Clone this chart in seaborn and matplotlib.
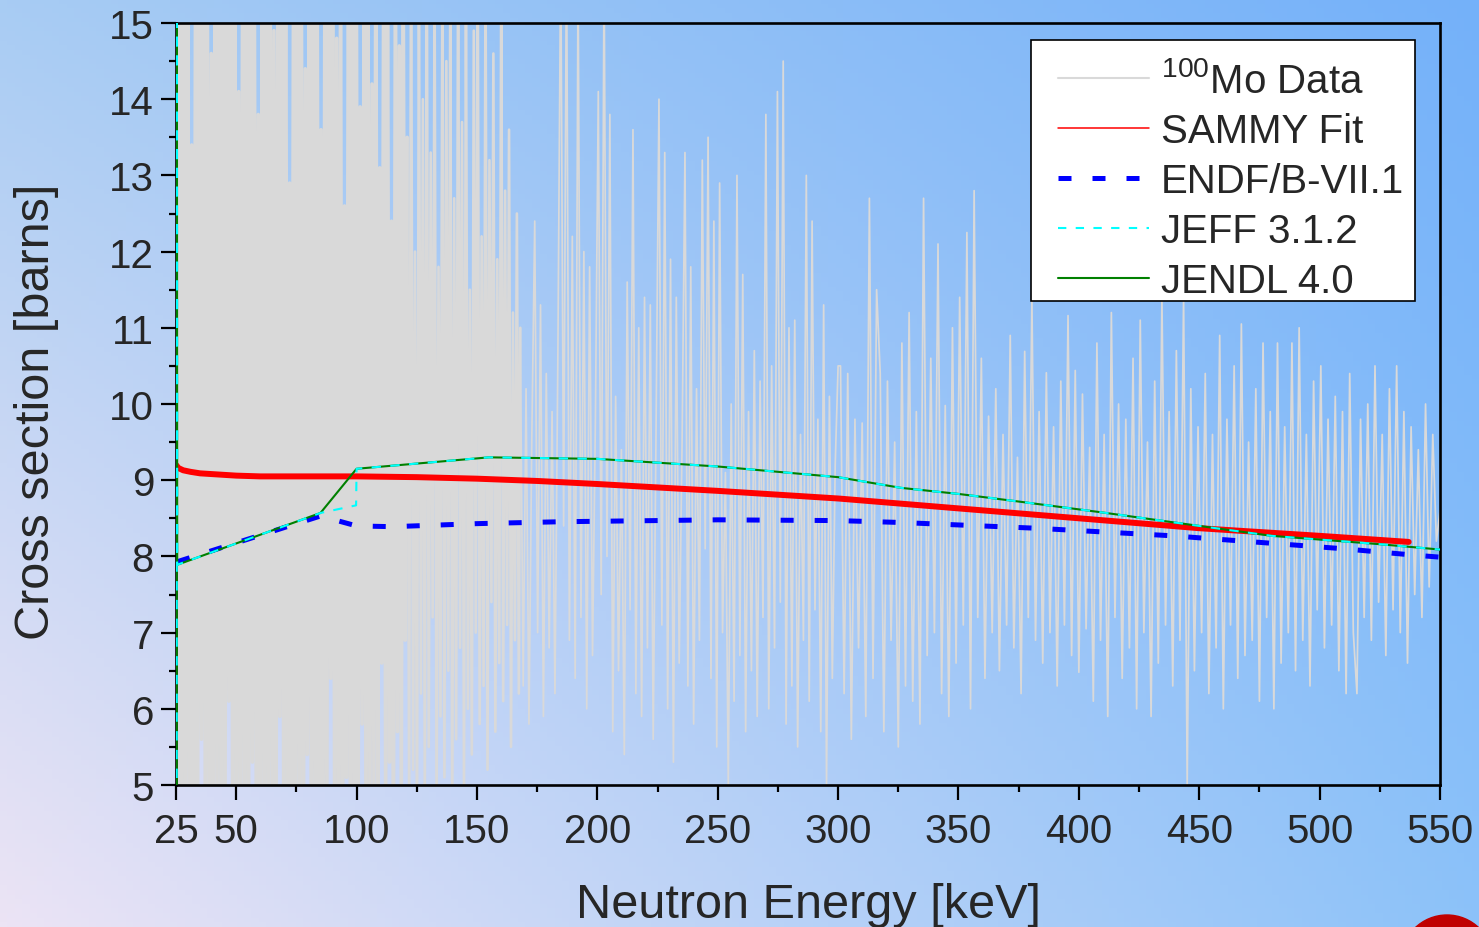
import numpy as np
import pandas as pd
import seaborn as sns
import matplotlib
matplotlib.use("Agg")
import matplotlib.pyplot as plt
from matplotlib.lines import Line2D
from matplotlib.patches import Ellipse, Rectangle

# ---------------- data ----------------
# 100Mo measured data, dense part 25-167 keV (alternating extrema)
data_y_a = [
    16.5, 3.0, 17.0, 4.2, 15.6, 3.5, 16.2, 4.6, 13.4, 3.2, 16.8, 4.0, 15.9, 5.6, 16.4, 3.8,
    16.0, 4.4, 14.6, 3.3, 16.6, 4.9, 15.5, 3.6, 17.2, 4.1, 16.1, 6.1, 15.8, 3.4, 16.9, 4.5,
    14.1, 3.9, 16.3, 4.7, 15.7, 3.1, 16.7, 5.3, 16.0, 4.0, 13.8, 3.7, 16.5, 4.3, 15.9, 3.5,
    17.1, 4.8, 14.9, 3.2, 16.2, 5.9, 15.6, 4.1, 16.8, 3.6, 12.9, 4.4, 16.4, 3.9, 15.7, 4.6,
    16.1, 3.3, 14.4, 5.4, 16.6, 4.2, 15.8, 3.8, 16.9, 4.9, 13.6, 3.4, 16.3, 4.5, 15.5, 6.4,
    16.7, 3.7, 14.8, 4.3, 16.0, 3.5, 12.6, 5.1, 16.5, 4.0, 15.9, 3.6, 17.0, 4.7, 13.9, 5.8,
    16.2, 3.9, 15.6, 4.4, 14.2, 5.0, 16.8, 4.2, 13.1, 6.6, 16.1, 4.6, 15.7, 5.3, 12.4, 4.1,
    16.4, 5.7, 14.7, 4.5, 15.9, 6.9, 13.5, 4.8, 16.6, 5.2, 12.0, 4.3, 15.8, 6.2, 14.0, 4.9,
    16.3, 5.5, 13.3, 7.2, 15.6, 4.7, 11.8, 5.9, 16.0, 5.1, 14.5, 6.5, 15.5, 4.6, 12.7, 5.6,
    16.2, 6.8, 13.7, 5.0, 15.7, 6.0, 11.5, 5.4, 14.9, 7.0, 16.1, 5.8, 12.2, 6.3, 15.9, 5.2,
    13.2, 7.4, 14.6, 5.7, 11.9, 6.6, 15.6, 6.1, 12.8, 7.1, 13.6, 5.5, 11.2, 6.9, 12.5, 6.2,
]
# 100Mo measured data, 168-300 keV
data_y_b = [
    11.0, 6.3, 10.2, 5.8, 9.6, 12.4, 7.0, 11.3, 5.9, 10.4,
    6.8, 9.9, 6.2, 10.6, 16.0, 8.4, 16.2, 6.9, 12.2, 6.4,
    15.8, 7.2, 12.0, 6.0, 11.8, 6.7, 9.8, 14.1, 7.5, 15.8,
    8.0, 13.8, 5.7, 10.1, 6.5, 9.4, 5.4, 11.6, 7.3, 13.6,
    6.2, 11.0, 5.9, 11.4, 6.8, 11.3, 5.6, 9.7, 14.0, 7.1,
    13.3, 6.0, 11.9, 5.3, 11.4, 6.6, 9.5, 13.3, 6.3, 11.8,
    5.8, 10.2, 6.9, 13.2, 8.1, 13.5, 6.4, 12.4, 5.5, 12.9,
    7.0, 9.1, 5.0, 10.0, 6.1, 13.0, 6.7, 11.7, 5.7, 9.9,
    6.5, 10.7, 5.9, 10.3, 7.2, 13.8, 6.0, 10.5, 6.8, 14.1,
    7.4, 14.5, 5.8, 11.0, 6.3, 11.1, 5.5, 9.6, 6.9, 13.0,
    6.1, 12.4, 7.3, 9.8, 5.7, 11.3, 5.0, 10.1, 6.4, 9.2,
    10.5,
]
# 100Mo measured data, 301-550 keV
data_y_c = [
    10.5, 6.2, 10.4, 5.6, 9.8, 6.8, 9.75, 5.9, 12.7, 6.4, 11.5, 10.4, 5.7, 10.3, 6.9, 9.5, 5.5, 10.8, 6.3, 11.2,
    6.1, 9.9, 5.8, 12.7, 6.7, 10.6, 7.0, 12.1, 6.2, 9.98, 5.9, 11.0, 6.6, 11.4, 7.1, 12.25, 6.0, 12.8, 7.2, 10.6,
    6.4, 9.84, 7.0, 10.2, 6.5, 9.6, 7.1, 10.9, 6.8, 9.3, 6.2, 10.69, 7.2, 11.38, 6.9, 9.9, 6.6, 10.41, 7.0, 9.7,
    6.3, 10.3, 7.1, 11.16, 6.7, 10.44, 6.48, 10.13, 7.05, 9.43, 6.1, 10.8, 6.9, 9.6, 5.9, 11.2, 7.2, 10.0, 6.4, 9.8,
    6.8, 10.6, 6.0, 11.1, 7.0, 9.5, 5.9, 10.3, 6.6, 11.4, 7.1, 9.9, 6.3, 10.7, 6.9, 11.4, 5.0, 10.2, 6.5, 9.7,
    7.0, 10.4, 6.2, 9.6, 6.8, 10.9, 6.0, 9.8, 7.1, 10.5, 6.4, 11.05, 6.7, 9.5, 6.9, 10.2, 6.1, 10.8, 7.2, 9.9,
    6.0, 10.8, 6.6, 9.7, 7.0, 10.8, 6.5, 11.0, 6.9, 9.6, 6.3, 10.3, 7.3, 10.5, 6.8, 9.8, 7.1, 10.1, 6.5, 9.9,
    6.2, 10.4, 7.0, 6.2, 9.8, 7.2, 10.0, 6.9, 10.5, 7.4, 9.6, 6.7, 10.2, 7.3, 10.5, 7.0, 9.9, 6.6, 9.7, 7.5,
    9.4, 7.2, 10.0, 7.6, 9.6, 8.2, 8.6,
]
data_range_a = (25.0, 167.4)
data_range_b = (168.0, 300.0)
data_range_c = (301.0, 550.0)

# SAMMY fit
sammy_e = [25, 26, 28, 31, 35, 40, 50, 60, 80, 100, 125, 150, 175, 200, 250, 300, 350, 400, 450, 500, 537]
sammy_y = [9.20, 9.16, 9.13, 9.11, 9.09, 9.08, 9.06, 9.05, 9.05, 9.05, 9.04, 9.02, 8.99, 8.95,
           8.86, 8.76, 8.63, 8.50, 8.37, 8.27, 8.19]

# ENDF/B-VII.1
endf_e = [25.5, 85, 100, 115, 150, 185, 250, 300, 326, 382, 439, 481, 510, 538, 550]
endf_y = [7.93, 8.53, 8.40, 8.39, 8.43, 8.455, 8.48, 8.47, 8.445, 8.37, 8.27, 8.17, 8.10, 8.02, 7.99]

# JEFF 3.1.2
jeff_e = [25.3, 25.35, 25.5, 85, 99.8, 100, 155, 200, 250, 300, 326, 350, 375, 409, 450, 480, 525, 550]
jeff_y = [3.0, 16.5, 7.89, 8.57, 8.67, 9.15, 9.30, 9.28, 9.18, 9.04, 8.90, 8.82, 8.72, 8.58, 8.40, 8.27, 8.16, 8.09]

# JENDL 4.0
jendl_e = [25.3, 25.35, 25.5, 85, 100, 155, 200, 250, 300, 326, 350, 375, 409, 450, 480, 525, 550]
jendl_y = [3.0, 16.5, 7.89, 8.57, 9.15, 9.30, 9.28, 9.18, 9.04, 8.90, 8.82, 8.72, 8.58, 8.40, 8.27, 8.16, 8.09]

legend_labels = [r"$\mathregular{^{100}}$Mo Data", "SAMMY Fit", "ENDF/B-VII.1", "JEFF 3.1.2", "JENDL 4.0"]
x_major = [25, 50, 100, 150, 200, 250, 300, 350, 400, 450, 500, 550]
x_minor = [75, 125, 175, 225, 275, 325, 375, 425, 475, 525]

# ---------------- style ----------------
sns.set_style("ticks")
plt.rcParams["font.family"] = ["Liberation Sans", "DejaVu Sans"]
plt.rcParams["mathtext.fontset"] = "custom"
plt.rcParams["mathtext.rm"] = "Liberation Sans"
plt.rcParams["mathtext.it"] = "Liberation Sans:italic"
plt.rcParams["mathtext.bf"] = "Liberation Sans:bold"

W, H = 1479, 928
fig = plt.figure(figsize=(W / 100, H / 100), dpi=100)

# gradient background
bg = fig.add_axes([0, 0, 1, 1], zorder=0)
tl = np.array([168, 204, 243]) / 255
tr = np.array([116, 177, 250]) / 255
bl = np.array([236, 228, 245]) / 255
br = np.array([140, 194, 249]) / 255
u = np.linspace(0, 1, 200)[None, :, None]
v = np.linspace(0, 1, 200)[:, None, None]
img = (1 - v) * ((1 - u) * tl + u * tr) + v * ((1 - u) * bl + u * br)
bg.imshow(img, aspect="auto", extent=(0, 1, 0, 1), origin="upper")
bg.set_axis_off()
fig.add_artist(Ellipse((1447 / W, 1 - 962 / H), 2 * 46 / W, 2 * 46 / H,
                       transform=fig.transFigure, color="#c00000", zorder=0.5))

ax = fig.add_axes([176 / W, 1 - 786 / H, 1264 / W, 762 / H], zorder=1)
ax.set_facecolor("none")

data_e = np.concatenate([
    np.linspace(*data_range_a, len(data_y_a)),
    np.linspace(*data_range_b, len(data_y_b)),
    np.linspace(*data_range_c, len(data_y_c)),
])
data_y = np.concatenate([data_y_a, data_y_b, data_y_c])
n_solid = 118            # below ~120 keV the measured data form a solid band
n_dense = len(data_y_a)  # up to ~167 keV still very dense

common = dict(ax=ax, estimator=None, sort=False, errorbar=None, legend=False)
sns.lineplot(x=data_e[:n_solid + 1], y=data_y[:n_solid + 1], color="#d9d9d9", lw=2.5,
             zorder=1, **common)
sns.lineplot(x=data_e[n_solid:n_dense + 1], y=data_y[n_solid:n_dense + 1], color="#d9d9d9",
             lw=1.9, zorder=1, **common)
sns.lineplot(x=data_e[n_dense:], y=data_y[n_dense:], color="#d9d9d9", lw=1.25, zorder=1, **common)
sns.lineplot(x=sammy_e, y=sammy_y, color="#ff0000", lw=4.3, zorder=2, **common)
sns.lineplot(x=endf_e, y=endf_y, color="#0000ff", lw=3.6, zorder=3,
             linestyle=(0, (2.6, 4.2)), **common)
sns.lineplot(x=jendl_e, y=jendl_y, color="#008000", lw=1.5, zorder=4, **common)
sns.lineplot(x=jeff_e, y=jeff_y, color="#00ffff", lw=1.5, zorder=5,
             linestyle=(0, (4.5, 4.5)), **common)

ax.set_xlim(25, 550)
ax.set_ylim(5, 15)
ax.set_xticks(x_major)
ax.set_xticks(x_minor, minor=True)
ax.set_yticks(np.arange(5, 16, 1))
ax.set_yticks(np.arange(5.5, 15, 1), minor=True)
ax.set_yticklabels([str(v) for v in range(5, 16)])
ax.tick_params(axis="both", which="major", direction="out", length=10.8, width=1.6,
               labelsize=29, color="black", pad=5)
ax.tick_params(axis="x", which="major", pad=8.5)
ax.tick_params(axis="both", which="minor", direction="out", length=5, width=1.6, color="black")
for s in ax.spines.values():
    s.set_color("black")
    s.set_linewidth(1.9)
    s.set_visible(True)

ax.set_xlabel("Neutron Energy [keV]", fontsize=35)
ax.set_ylabel("Cross section [barns]", fontsize=35)
ax.xaxis.set_label_coords(0.5, -0.1275)
ax.yaxis.set_label_coords(-0.0925, 0.491)

# legend: opaque white box with thin black border, entries laid over it
fig.add_artist(Rectangle((1031 / W, 1 - 302 / H), 384 / W, 261 / H, transform=fig.transFigure,
                         facecolor="white", edgecolor="black", lw=1.2, zorder=2))
handles = [
    Line2D([], [], color="#d9d9d9", lw=1.5),
    Line2D([], [], color="#ff0000", lw=1.1),
    Line2D([], [], color="#0000ff", lw=3.6, linestyle=(0, (2.6, 4.2))),
    Line2D([], [], color="#00ffff", lw=1.5, linestyle=(0, (4.0, 4.5))),
    Line2D([], [], color="#008000", lw=1.5),
]
leg = fig.legend(handles, legend_labels, loc="upper left",
                 bbox_to_anchor=(1058 / W, 1 - 62 / H), bbox_transform=fig.transFigure,
                 borderaxespad=0, borderpad=0, fontsize=29, frameon=False,
                 labelspacing=0.3, handlelength=2.25, handletextpad=0.3)
leg.set_zorder(5)

fig.savefig("out.png", dpi=100)
